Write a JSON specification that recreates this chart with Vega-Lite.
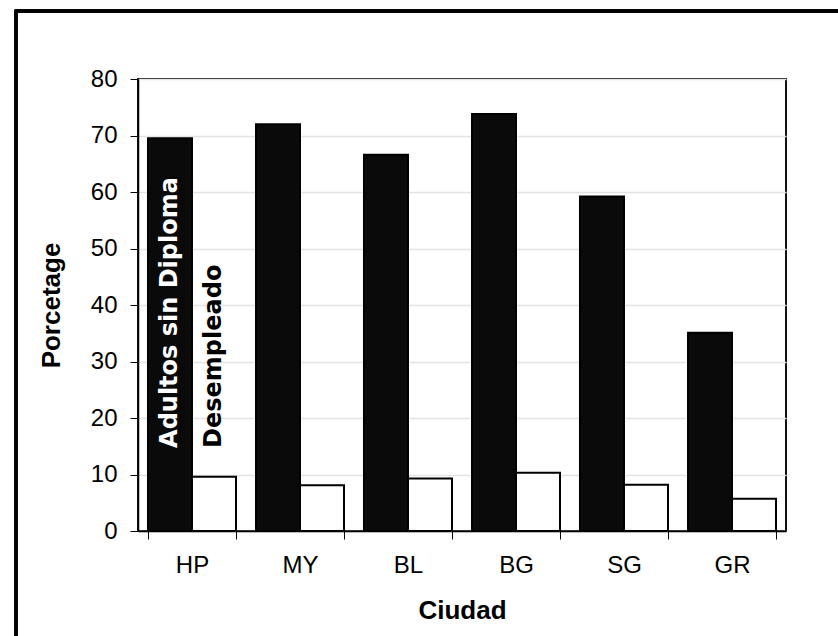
{
  "$schema": "https://vega.github.io/schema/vega-lite/v6.json",
  "width": 648,
  "height": 452,
  "autosize": {"type": "none"},
  "padding": {"left": 138, "top": 79, "right": 52, "bottom": 105},
  "background": "white",
  "config": {
    "font": "Liberation Sans",
    "view": {"stroke": "#111111", "strokeWidth": 2}
  },
  "data": {
    "values": [
      {"ciudad": "HP", "serie": "Adultos sin Diploma", "valor": 69.5},
      {"ciudad": "HP", "serie": "Desempleado", "valor": 9.6},
      {"ciudad": "MY", "serie": "Adultos sin Diploma", "valor": 72.0},
      {"ciudad": "MY", "serie": "Desempleado", "valor": 8.1},
      {"ciudad": "BL", "serie": "Adultos sin Diploma", "valor": 66.6},
      {"ciudad": "BL", "serie": "Desempleado", "valor": 9.3},
      {"ciudad": "BG", "serie": "Adultos sin Diploma", "valor": 73.8},
      {"ciudad": "BG", "serie": "Desempleado", "valor": 10.3},
      {"ciudad": "SG", "serie": "Adultos sin Diploma", "valor": 59.2},
      {"ciudad": "SG", "serie": "Desempleado", "valor": 8.2},
      {"ciudad": "GR", "serie": "Adultos sin Diploma", "valor": 35.1},
      {"ciudad": "GR", "serie": "Desempleado", "valor": 5.7}
    ]
  },
  "encoding": {
    "x": {
      "field": "ciudad",
      "type": "nominal",
      "sort": ["HP", "MY", "BL", "BG", "SG", "GR"],
      "scale": {"paddingInner": 0.185, "paddingOuter": 0.0925},
      "axis": {
        "title": "Ciudad",
        "titleFont": "Liberation Sans",
        "titleFontSize": 26,
        "titleFontWeight": "bold",
        "titleColor": "black",
        "titlePadding": 20,
        "labelAngle": 0,
        "labelFontSize": 24,
        "labelColor": "black",
        "labelPadding": 14,
        "tickBand": "extent",
        "tickSize": 8,
        "tickColor": "black",
        "domainColor": "black",
        "domainWidth": 1.5
      }
    },
    "xOffset": {
      "field": "serie",
      "type": "nominal",
      "sort": ["Adultos sin Diploma", "Desempleado"],
      "scale": {"paddingInner": 0, "paddingOuter": 0}
    }
  },
  "layer": [
    {
      "mark": {"type": "rect", "fill": null, "stroke": "black", "strokeWidth": 2.5, "clip": false},
      "encoding": {
        "x": {"value": -122},
        "x2": {"value": 760},
        "y": {"value": -68},
        "y2": {"value": 600},
        "xOffset": null
      }
    },
    {
      "mark": {"type": "bar", "stroke": "black", "strokeWidth": 2},
      "encoding": {
        "y": {
          "field": "valor",
          "type": "quantitative",
          "scale": {"domain": [0, 80], "nice": false},
          "axis": {
            "title": "Porcetage",
            "titleFont": "Liberation Sans",
            "titleFontSize": 26,
            "titleFontWeight": "bold",
            "titleColor": "black",
            "titlePadding": 26,
            "values": [0, 10, 20, 30, 40, 50, 60, 70, 80],
            "labelFontSize": 24,
            "labelColor": "black",
            "labelPadding": 13,
            "tickSize": 8,
            "tickColor": "black",
            "domainColor": "black",
            "domainWidth": 1.5,
            "grid": true,
            "gridColor": "#e3e3e3",
            "gridWidth": 1.5
          }
        },
        "color": {
          "field": "serie",
          "type": "nominal",
          "scale": {"domain": ["Adultos sin Diploma", "Desempleado"], "range": ["#0a0a0a", "#ffffff"]},
          "legend": null
        }
      }
    },
    {
      "transform": [{"filter": "datum.ciudad === 'HP'"}],
      "mark": {
        "type": "text",
        "angle": 270,
        "align": "left",
        "baseline": "middle",
        "font": "DejaVu Sans",
        "fontWeight": "bold",
        "fontSize": 24
      },
      "encoding": {
        "y": {"datum": 14.7, "type": "quantitative"},
        "text": {"field": "serie"},
        "color": {
          "condition": {"test": "datum.serie === 'Adultos sin Diploma'", "value": "white"},
          "value": "black"
        }
      }
    }
  ]
}
